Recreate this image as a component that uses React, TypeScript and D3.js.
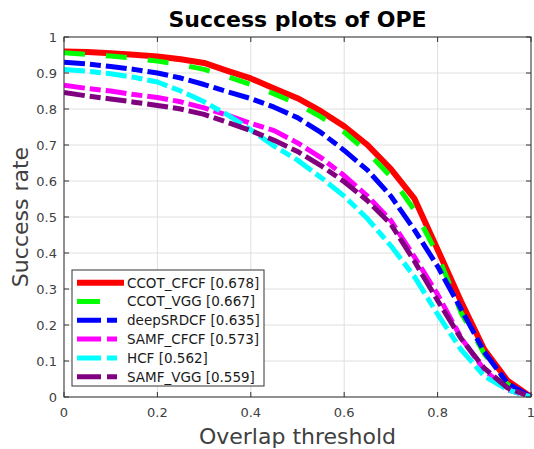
import React from "react";
import * as d3 from "d3";

const thresholds = [0, 0.05, 0.1, 0.15, 0.2, 0.25, 0.3, 0.35, 0.4, 0.45, 0.5, 0.55, 0.6, 0.65, 0.7, 0.75, 0.8, 0.85, 0.9, 0.95, 1];

const ccotCfcf = [0.96, 0.958, 0.955, 0.951, 0.946, 0.938, 0.928, 0.906, 0.885, 0.857, 0.83, 0.794, 0.752, 0.7, 0.633, 0.552, 0.41, 0.266, 0.132, 0.045, 0];
const ccotVgg = [0.956, 0.952, 0.947, 0.941, 0.933, 0.923, 0.91, 0.89, 0.868, 0.842, 0.814, 0.778, 0.736, 0.68, 0.612, 0.52, 0.395, 0.235, 0.12, 0.035, 0];
const deepSrdcf = [0.93, 0.925, 0.918, 0.91, 0.9, 0.886, 0.868, 0.848, 0.829, 0.805, 0.776, 0.735, 0.685, 0.63, 0.558, 0.465, 0.363, 0.245, 0.125, 0.038, 0];
const samfCfcf = [0.866, 0.857, 0.85, 0.84, 0.832, 0.82, 0.803, 0.783, 0.76, 0.74, 0.706, 0.665, 0.615, 0.558, 0.49, 0.39, 0.285, 0.165, 0.075, 0.02, 0];
const hcf = [0.91, 0.905, 0.898, 0.888, 0.875, 0.85, 0.82, 0.784, 0.742, 0.697, 0.658, 0.61, 0.558, 0.495, 0.42, 0.335, 0.23, 0.132, 0.058, 0.02, 0];
const samfVgg = [0.846, 0.836, 0.828, 0.819, 0.81, 0.8, 0.785, 0.763, 0.74, 0.713, 0.682, 0.643, 0.598, 0.545, 0.48, 0.378, 0.268, 0.163, 0.08, 0.025, 0];

const seriesNames = ["CCOT_CFCF", "CCOT_VGG", "deepSRDCF", "SAMF_CFCF", "HCF", "SAMF_VGG"];
const seriesScores = ["0.678", "0.667", "0.635", "0.573", "0.562", "0.559"];
const seriesValues = [ccotCfcf, ccotVgg, deepSrdcf, samfCfcf, hcf, samfVgg];
const seriesColors = ["#ff0000", "#00ff00", "#0000ff", "#ff00ff", "#00ffff", "#800080"];

const xTicks = [0, 0.2, 0.4, 0.6, 0.8, 1];
const xTickLabels = ["0", "0.2", "0.4", "0.6", "0.8", "1"];
const yTicks = [0, 0.1, 0.2, 0.3, 0.4, 0.5, 0.6, 0.7, 0.8, 0.9, 1];
const yTickLabels = ["0", "0.1", "0.2", "0.3", "0.4", "0.5", "0.6", "0.7", "0.8", "0.9", "1"];

const titleText = "Success plots of OPE";
const xLabelText = "Overlap threshold";
const yLabelText = "Success rate";

const W = 534;
const H = 449;
const left = 64;
const right = 531;
const top = 37;
const bottom = 397;
const FONT = "DejaVu Sans, sans-serif";
const AX = "#333333";
const TXT = "#404040";

const lineWidths = [6, 5, 5, 5, 5, 5];
const dashes = [null, "21,21", "21,5,11,5", "21,5,11,5", "21,5,11,5", "21,5,11,5"];
const legendDashes = [null, "23,100", "24,6,10,100", "24,6,10,100", "24,6,10,100", "24,6,10,100"];

export default function App() {
  const x = d3.scaleLinear().domain([0, 1]).range([left, right]);
  const y = d3.scaleLinear().domain([0, 1]).range([bottom, top]);
  const line = d3
    .line<number>()
    .x((_, i) => x(thresholds[i]))
    .y((d) => y(d))
    .curve(d3.curveLinear);

  const tickLen = 5;
  const legX = 72;
  const legY = 270;
  const legW = 192;
  const legH = 116;
  const rowH = 18.8;

  return (
    <svg
      width={W}
      height={H}
      style={{ position: "absolute", left: 0, top: 0, background: "#fff" }}
      fontFamily={FONT}
    >
      <defs>
        <clipPath id="plotclip">
          <rect x={left} y={top - 5} width={right - left + 5} height={bottom - top + 5} />
        </clipPath>
      </defs>
      <rect x={0} y={0} width={W} height={H} fill="#fff" />
      {xTicks.map((t) => (
        <line key={"gx" + t} x1={x(t)} x2={x(t)} y1={top} y2={bottom} stroke="#dfdfdf" strokeWidth={1} />
      ))}
      {yTicks.map((t) => (
        <line key={"gy" + t} x1={left} x2={right} y1={y(t)} y2={y(t)} stroke="#dfdfdf" strokeWidth={1} />
      ))}
      <g clipPath="url(#plotclip)">
        {seriesValues.map((vals, i) => (
          <path
            key={seriesNames[i]}
            d={line(vals) || ""}
            fill="none"
            stroke={seriesColors[i]}
            strokeWidth={lineWidths[i]}
            strokeDasharray={dashes[i] || undefined}
            strokeLinejoin="round"
          />
        ))}
      </g>
      <rect x={left} y={top} width={right - left} height={bottom - top} fill="none" stroke={AX} strokeWidth={1} />
      {xTicks.map((t) => (
        <g key={"tx" + t}>
          <line x1={x(t)} x2={x(t)} y1={bottom} y2={bottom - tickLen} stroke={AX} />
          <line x1={x(t)} x2={x(t)} y1={top} y2={top + tickLen} stroke={AX} />
        </g>
      ))}
      {yTicks.map((t) => (
        <g key={"ty" + t}>
          <line x1={left} x2={left + tickLen} y1={y(t)} y2={y(t)} stroke={AX} />
          <line x1={right} x2={right - tickLen} y1={y(t)} y2={y(t)} stroke={AX} />
        </g>
      ))}
      {xTicks.map((t, i) => (
        <text key={"lx" + t} x={x(t)} y={416.5} textAnchor="middle" fontSize={13} fill={TXT}>
          {xTickLabels[i]}
        </text>
      ))}
      {yTicks.map((t, i) => (
        <text key={"ly" + t} x={57} y={y(t)} dy="0.36em" textAnchor="end" fontSize={13} fill={TXT}>
          {yTickLabels[i]}
        </text>
      ))}
      <text x={(left + right) / 2} y={26.5} textAnchor="middle" fontSize={22} fontWeight="bold" fill="#000">
        {titleText}
      </text>
      <text x={(left + right) / 2} y={443.5} textAnchor="middle" fontSize={22} fill={TXT}>
        {xLabelText}
      </text>
      <text
        transform={`translate(28,${(top + bottom) / 2}) rotate(-90)`}
        textAnchor="middle"
        fontSize={22}
        fill={TXT}
      >
        {yLabelText}
      </text>
      <rect x={legX} y={legY} width={legW} height={legH} fill="#fff" stroke={AX} strokeWidth={1} />
      {seriesNames.map((name, i) => {
        const cy = legY + 12.7 + i * rowH;
        return (
          <g key={"leg" + name}>
            <line
              x1={77}
              x2={124}
              y1={cy}
              y2={cy}
              stroke={seriesColors[i]}
              strokeWidth={lineWidths[i]}
              strokeDasharray={legendDashes[i] || undefined}
            />
            <text x={127} y={cy} dy="0.36em" fontSize={13.5} fill="#1a1a1a">
              {name} [{seriesScores[i]}]
            </text>
          </g>
        );
      })}
    </svg>
  );
}
